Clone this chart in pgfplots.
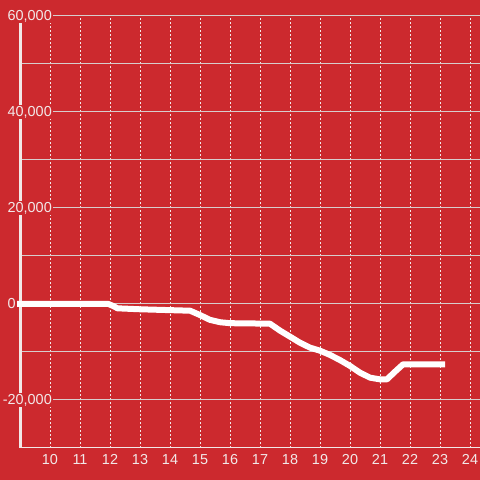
\documentclass[border=0pt]{standalone}
\usepackage{pgfplots}
\pgfplotsset{compat=1.18}
\usepackage{fontspec}
\setmainfont{Liberation Sans}
\definecolor{bg}{RGB}{204,41,46}
\definecolor{txt}{RGB}{242,232,232}
\definecolor{hgrid}{RGB}{215,205,205}
\begin{document}
\begin{tikzpicture}[x=1bp,y=1bp]
\fill[bg] (0,0) rectangle (480,480);
\begin{axis}[
  at={(20bp,32bp)}, anchor=south west,
  scale only axis, width=460bp, height=432bp,
  xmin=9, xmax=24.333, ymin=-30000, ymax=60000,
  clip=false,
  axis lines*=left,
  y axis line style={line width=3bp, draw=txt},
  x axis line style={line width=1bp, draw=txt},
  xtick={10,...,24},
  ytick={-20000,20000,40000,60000},
  minor ytick={-10000,10000,30000,50000},
  major tick length=0pt, minor tick length=0pt,
  xmajorgrids, ymajorgrids, yminorgrids,
  x grid style={draw=txt, line width=1bp, dash pattern=on 2bp off 2bp},
  y grid style={draw=hgrid, line width=1bp},
  minor y grid style={draw=hgrid, line width=1bp},
  extra y ticks={0},
  extra y tick labels={},
  extra y tick style={grid style={draw=white, line width=2.5bp, solid}},
  scaled y ticks=false,
  /pgf/number format/.cd, 1000 sep={,}, assume math mode=true,
  /pgfplots/.cd,
  tick label style={font=\fontsize{14.5}{16}\selectfont, text=txt},
  yticklabel style={anchor=east, xshift=33bp, fill=bg, inner xsep=1bp, inner ysep=1bp},
  xticklabel style={anchor=north, yshift=-3bp},
]
\addplot[white, line width=6bp, line join=round] coordinates {
 (8.9,0) (11.95,0) (12.1,-400) (12.25,-900) (13,-1100) (14.67,-1400)
 (15.0,-2300) (15.33,-3300) (15.67,-3800) (16.0,-4000) (16.67,-4050) (17.33,-4100)
 (17.67,-5560) (18.0,-6800) (18.33,-8060) (18.67,-9100) (19.0,-9730)
 (19.33,-10600) (19.67,-11700) (20.0,-12900) (20.33,-14300) (20.67,-15350)
 (21.0,-15700) (21.23,-15700) (21.5,-14100) (21.77,-12560) (22.0,-12560) (23.17,-12560)
};
\end{axis}
\node[anchor=west, fill=bg, text=txt, font=\fontsize{14.5}{16}\selectfont, inner sep=0.5pt] at (7bp,176bp) {0};
\pgfresetboundingbox
\useasboundingbox (0,0) rectangle (480,480);
\end{tikzpicture}
\end{document}
